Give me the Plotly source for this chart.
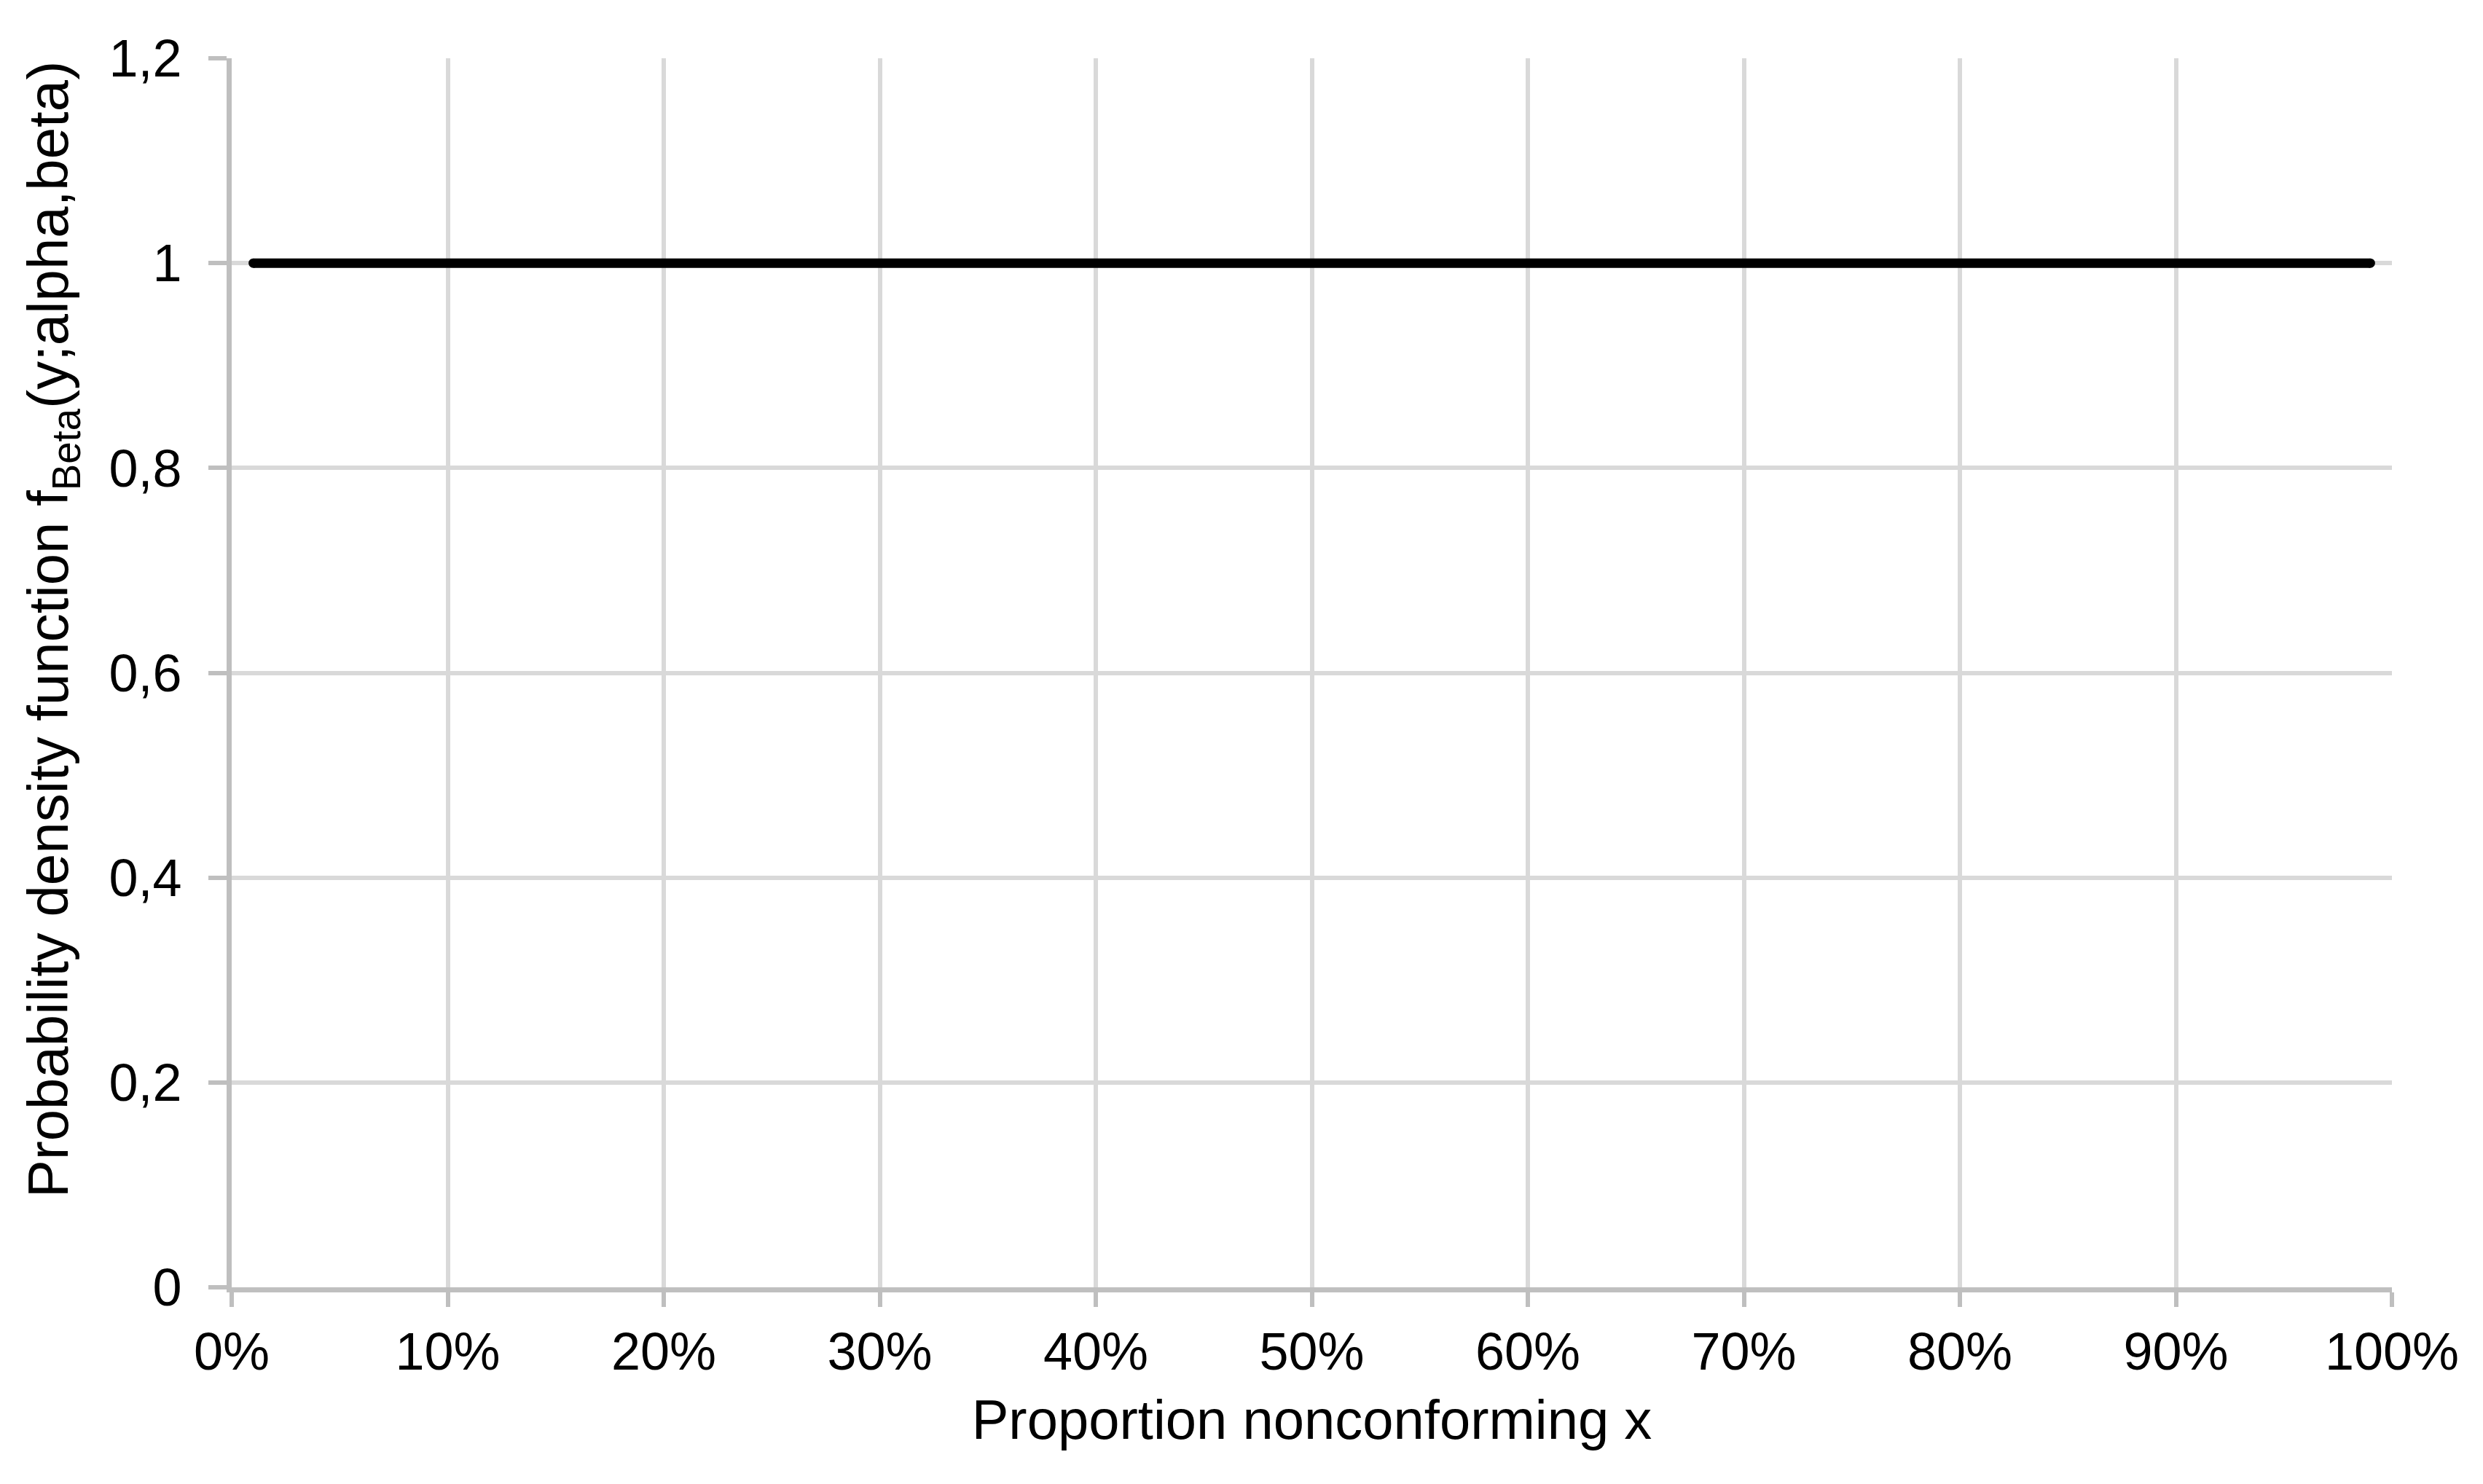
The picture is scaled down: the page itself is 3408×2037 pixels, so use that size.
import plotly.graph_objects as go

# Beta(1,1) density: flat line at 1 over the plotted range
x_vals = [0.01, 0.99]
y_vals = [1, 1]

x_ticks = [0, 0.1, 0.2, 0.3, 0.4, 0.5, 0.6, 0.7, 0.8, 0.9, 1.0]
y_ticks = [0, 0.2, 0.4, 0.6, 0.8, 1.0, 1.2]

x_title = "Proportion nonconforming x"
y_title = "Probability density function f<sub>Beta</sub>(y;alpha,beta)"

_FONT = "Liberation Sans, Arial, sans-serif"
_GRID = "#d9d9d9"
_AXIS = "#bfbfbf"

fig = go.Figure(go.Scatter(
    x=x_vals, y=y_vals,
    mode="lines+markers",          # markers stand in for round line caps
    line=dict(color="black", width=13),
    marker=dict(color="black", size=13, line=dict(width=0)),
    showlegend=False,
))

fig.update_layout(
    width=3408, height=2037,
    paper_bgcolor="white", plot_bgcolor="white",
    font=dict(family=_FONT, size=72, color="black"),
    separators=", ",
    margin=dict(l=310, r=133, t=72, b=278),
    xaxis=dict(
        range=[0, 1], tickvals=x_ticks, tickformat=".0%",
        showgrid=True, gridcolor=_GRID, gridwidth=6,
        showline=True, linecolor=_AXIS, linewidth=7,
        ticks="outside", ticklen=20, tickwidth=6, tickcolor=_AXIS,
        zeroline=False,
        title=dict(text=x_title, standoff=30, font=dict(size=76)),
    ),
    yaxis=dict(
        range=[0, 1.2], tickvals=y_ticks,
        showgrid=True, gridcolor=_GRID, gridwidth=6,
        showline=True, linecolor=_AXIS, linewidth=7,
        ticks="outside", ticklen=25, tickwidth=6, tickcolor=_AXIS,
        ticklabelstandoff=22,
        zeroline=False,
    ),
)

# y title placed as annotation so it can sit slightly above the axis centre
fig.add_annotation(
    text=y_title, textangle=-90, showarrow=False,
    xref="paper", yref="paper", x=-0.083, y=0.535,
    xanchor="center", yanchor="middle",
    font=dict(size=78),
)

fig.write_html("out.html")
